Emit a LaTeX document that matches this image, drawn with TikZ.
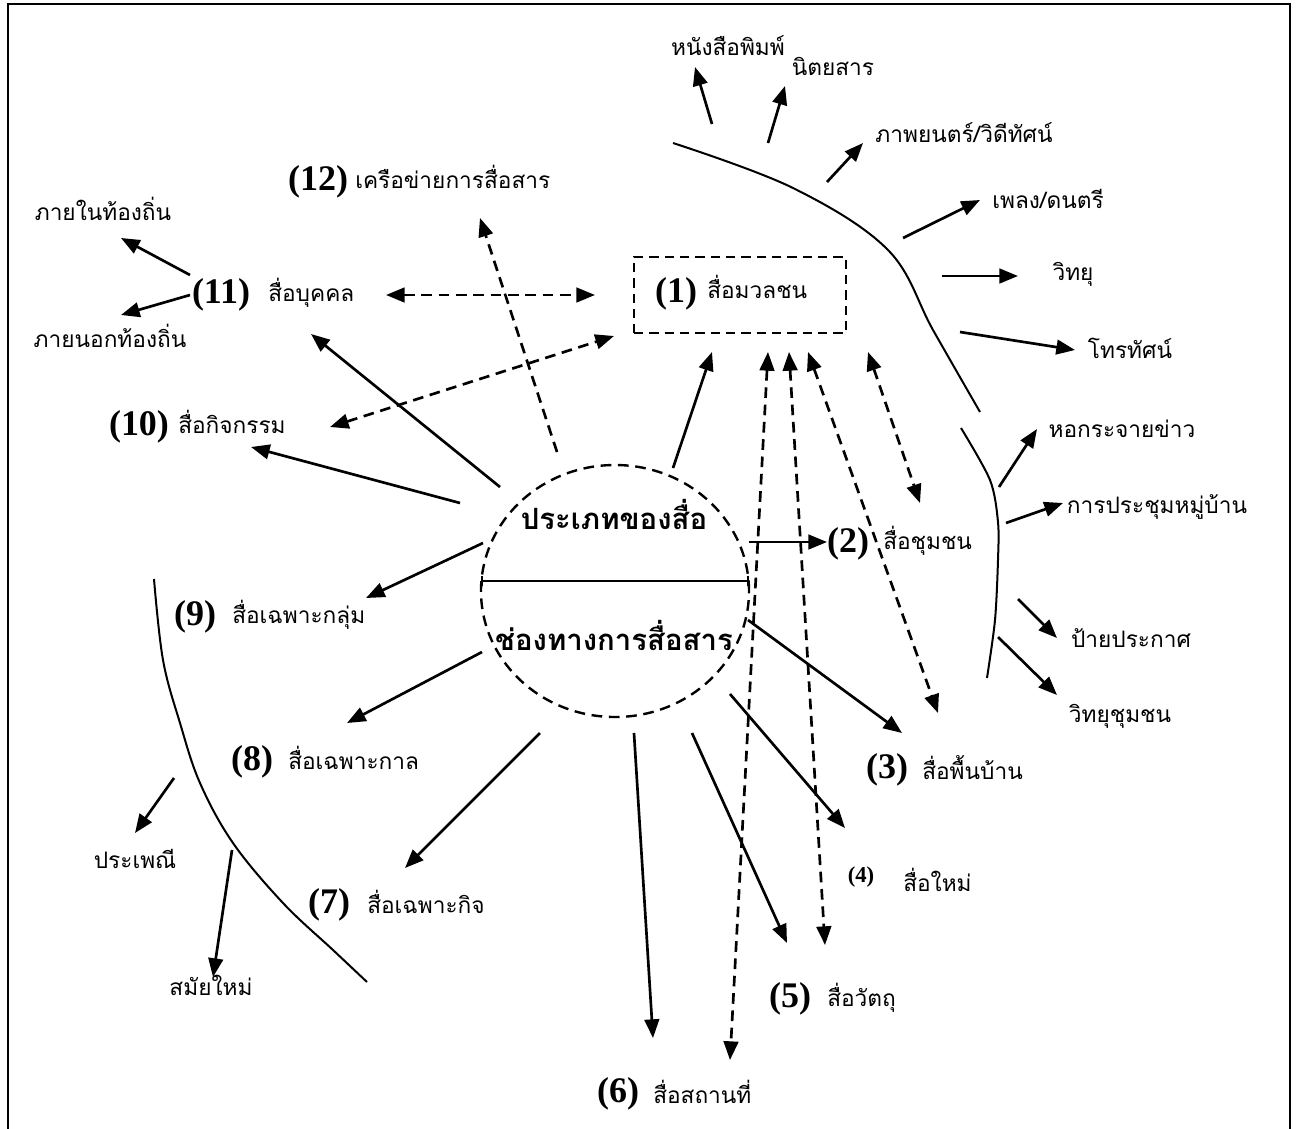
\documentclass[tikz,border=0pt]{standalone}
\usepackage{fontspec}
\setmainfont{Liberation Serif}
\newfontfamily\thai[Script=Thai]{Loma}
\usetikzlibrary{arrows.meta,shapes.geometric}

\tikzset{
  lbl/.style={font=\thai\fontsize{17}{20}\selectfont, inner sep=0pt, anchor=base},
  lblw/.style={lbl, anchor=base west},
  num/.style={font=\bfseries\fontsize{27}{30}\selectfont, inner sep=0pt, anchor=base},
  hubtext/.style={font=\thai\bfseries\fontsize{22}{26}\selectfont, inner sep=0pt, anchor=base},
  arr/.style={line width=2pt, -{Triangle[length=14pt,width=11pt]}},
  dashes/.style={dash pattern=on 8pt off 5pt},
  darr/.style={arr, dashes},
  ddarr/.style={line width=2pt, dashes,
                {Triangle[length=14pt,width=11pt]}-{Triangle[length=14pt,width=11pt]}},
  curve/.style={line width=1.5pt},
  frame/.style={line width=2pt}
}

\begin{document}
\begin{tikzpicture}[x=0.75pt, y=-0.75pt]
\useasboundingbox (0,0) rectangle (1297,1129);

% outer frame (open at the bottom)
\draw[frame] (8,1129) -- (8,4) -- (1290,4) -- (1290,1129);

% central hub
\node[ellipse, draw, line width=1.8pt, dashes,
      minimum width=201pt, minimum height=189pt, inner sep=0pt] (hub) at (615,591) {};
\coordinate (divL) at (481,581);
\coordinate (divR) at (749,581);
\draw[line width=1.6pt, {Bar[width=8pt]}-{Bar[width=8pt]}] (divL) -- (divR);
\node[hubtext] (hubtop) at (614,529) {ประเภทของสื่อ};
\node[hubtext] (hubbot) at (614,650) {ช่องทางการสื่อสาร};

% (1) mass media box
\node[draw, line width=1.5pt, dash pattern=on 7pt off 4.5pt, minimum width=159pt,
      minimum height=57pt, inner sep=0pt] (box1) at (740,295) {};

% numbered categories
\node[num] (n1) at (676,302) {(1)};
\node[lblw] (t1) at (707,298) {สื่อมวลชน};
\node[num] (n2) at (848,552) {(2)};
\node[lblw] (t2) at (883,549) {สื่อชุมชน};
\node[num] (n3) at (887,778) {(3)};
\node[lblw] (t3) at (922,779) {สื่อพื้นบ้าน};
\node[num, font=\bfseries\fontsize{17}{19}\selectfont] (n4) at (861,882) {(4)};
\node[lblw] (t4) at (903,891) {สื่อใหม่};
\node[num] (n5) at (790,1007) {(5)};
\node[lblw] (t5) at (827,1006) {สื่อวัตถุ};
\node[num] (n6) at (618,1102) {(6)};
\node[lblw] (t6) at (653,1103) {สื่อสถานที่};
\node[num] (n7) at (329,913) {(7)};
\node[lblw] (t7) at (367,913) {สื่อเฉพาะกิจ};
\node[num] (n8) at (252,770) {(8)};
\node[lblw] (t8) at (288,769) {สื่อเฉพาะกาล};
\node[num] (n9) at (195,625) {(9)};
\node[lblw] (t9) at (232,623) {สื่อเฉพาะกลุ่ม};
\node[num] (n10) at (139,435) {(10)};
\node[lblw] (t10) at (178,433) {สื่อกิจกรรม};
\node[num] (n11) at (221,303) {(11)};
\node[lblw] (t11) at (268,301) {สื่อบุคคล};
\node[num] (n12) at (318,190) {(12)};
\node[lblw] (t12) at (355,188) {เครือข่ายการสื่อสาร};

% sub-items
\node[lbl] (m1) at (728,55) {หนังสือพิมพ์};
\node[lbl] (m2) at (833,75) {นิตยสาร};
\node[lbl] (m3) at (964,142) {ภาพยนตร์/วิดีทัศน์};
\node[lbl] (m4) at (1048,208) {เพลง/ดนตรี};
\node[lbl] (m5) at (1073,280) {วิทยุ};
\node[lbl] (m6) at (1130,358) {โทรทัศน์};
\node[lbl] (c1) at (1122,437) {หอกระจายข่าว};
\node[lbl] (c2) at (1157,513) {การประชุมหมู่บ้าน};
\node[lbl] (c3) at (1131,647) {ป้ายประกาศ};
\node[lbl] (c4) at (1120,722) {วิทยุชุมชน};
\node[lbl] (p1) at (103,220) {ภายในท้องถิ่น};
\node[lbl] (p2) at (110,347) {ภายนอกท้องถิ่น};
\node[lbl] (s1) at (135,868) {ประเพณี};
\node[lbl] (s2) at (211,995) {สมัยใหม่};

% grouping curves
\draw[curve] plot[smooth, tension=0.6] coordinates
  {(673,143) (793,188) (888,250) (933,330) (980,412)};
\draw[curve] plot[smooth, tension=0.5] coordinates
  {(961,428) (990,480) (998,522) (998,560) (995,620) (987,678)};
\draw[curve] plot[smooth, tension=0.6] coordinates
  {(154,579) (163,660) (180,723) (200,783) (233,843) (283,903) (333,950) (367,982)};

% arrow end points
\coordinate (a1s) at (673,468);   \coordinate (a1e) at (712,352);
\coordinate (a2s) at (749,542);   \coordinate (a2e) at (827,542);
\coordinate (a3s) at (748,620);   \coordinate (a3e) at (902,733);
\coordinate (a4s) at (730,694);   \coordinate (a4e) at (845,828);
\coordinate (a5s) at (692,733);   \coordinate (a5e) at (787,943);
\coordinate (a6s) at (634,733);   \coordinate (a6e) at (653,1038);
\coordinate (a7s) at (540,733);   \coordinate (a7e) at (405,868);
\coordinate (a8s) at (482,652);   \coordinate (a8e) at (347,723);
\coordinate (a9s) at (483,543);   \coordinate (a9e) at (366,598);
\coordinate (a10s) at (460,503);  \coordinate (a10e) at (251,447);
\coordinate (a11s) at (500,487);  \coordinate (a11e) at (311,334);
\coordinate (a12s) at (557,452);  \coordinate (a12e) at (480,218);

\coordinate (d1a) at (386,295);   \coordinate (d1b) at (595,295);
\coordinate (d2a) at (330,427);   \coordinate (d2b) at (614,336);
\coordinate (d3a) at (768,352);   \coordinate (d3b) at (730,1060);
\coordinate (d4a) at (789,352);   \coordinate (d4b) at (825,945);
\coordinate (d5a) at (808,352);   \coordinate (d5b) at (938,713);
\coordinate (d6a) at (868,352);   \coordinate (d6b) at (920,503);

\coordinate (pa1s) at (190,275);  \coordinate (pa1e) at (121,238);
\coordinate (pa2s) at (190,295);  \coordinate (pa2e) at (121,315);
\coordinate (sa1s) at (174,778);  \coordinate (sa1e) at (135,833);
\coordinate (sa2s) at (232,850);  \coordinate (sa2e) at (213,977);

\coordinate (ma1s) at (712,124);  \coordinate (ma1e) at (695,67);
\coordinate (ma2s) at (768,143);  \coordinate (ma2e) at (785,86);
\coordinate (ma3s) at (827,182);  \coordinate (ma3e) at (863,143);
\coordinate (ma4s) at (903,238);  \coordinate (ma4e) at (980,200);
\coordinate (ma5s) at (942,276);  \coordinate (ma5e) at (1018,276);
\coordinate (ma6s) at (960,332);  \coordinate (ma6e) at (1075,350);
\coordinate (ca1s) at (999,487);  \coordinate (ca1e) at (1037,429);
\coordinate (ca2s) at (1006,523); \coordinate (ca2e) at (1063,503);
\coordinate (ca3s) at (1018,599); \coordinate (ca3e) at (1057,638);
\coordinate (ca4s) at (998,637);  \coordinate (ca4e) at (1057,695);

% solid arrows from the hub
\foreach \i in {1,...,11} \draw[arr] (a\i s) -- (a\i e);
% dashed links
\draw[darr] (a12s) -- (a12e);
\foreach \i in {1,...,6} \draw[ddarr] (d\i a) -- (d\i b);

% sub-item arrows
\foreach \p in {pa1,pa2,sa1,sa2,ma1,ma2,ma3,ma4,ma5,ma6,ca1,ca2,ca3,ca4}
  \draw[arr] (\p s) -- (\p e);
\end{tikzpicture}
\end{document}
